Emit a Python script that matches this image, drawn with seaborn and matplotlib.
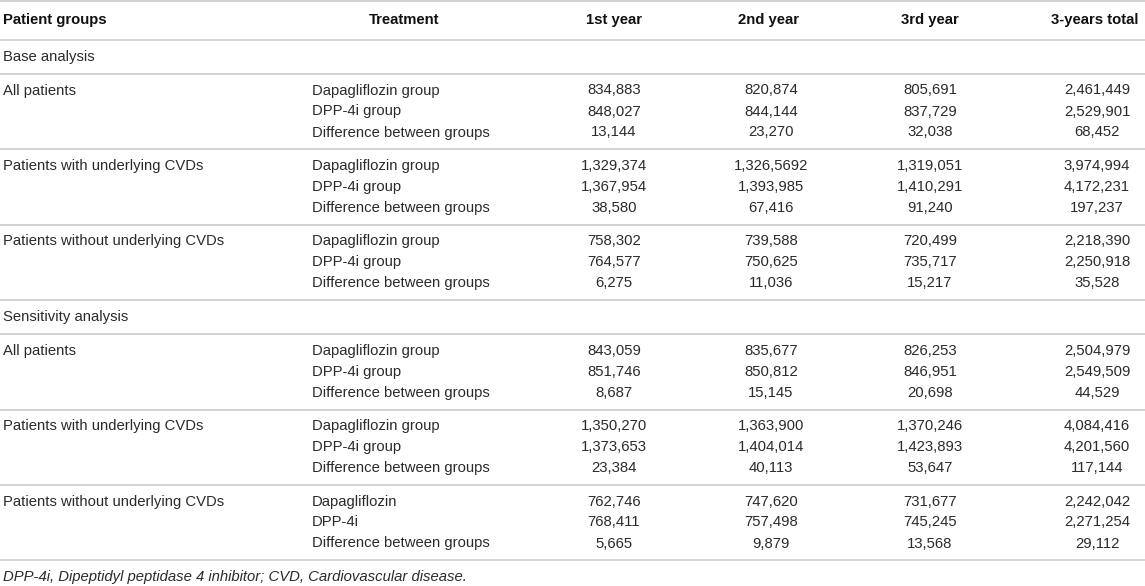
import matplotlib
matplotlib.use('Agg')
import seaborn as sns
from matplotlib import pyplot as plt

# table content
columns = ["Patient groups", "Treatment", "1st year", "2nd year", "3rd year", "3-years total"]
sections = ["Base analysis", "Sensitivity analysis"]
patient_groups = ["All patients", "Patients with underlying CVDs", "Patients without underlying CVDs"]
treatments = ["Dapagliflozin group", "DPP-4i group", "Difference between groups"]
treatments_last = ["Dapagliflozin", "DPP-4i", "Difference between groups"]

year1 = [
    ["834,883", "848,027", "13,144"],
    ["1,329,374", "1,367,954", "38,580"],
    ["758,302", "764,577", "6,275"],
    ["843,059", "851,746", "8,687"],
    ["1,350,270", "1,373,653", "23,384"],
    ["762,746", "768,411", "5,665"],
]
year2 = [
    ["820,874", "844,144", "23,270"],
    ["1,326,5692", "1,393,985", "67,416"],
    ["739,588", "750,625", "11,036"],
    ["835,677", "850,812", "15,145"],
    ["1,363,900", "1,404,014", "40,113"],
    ["747,620", "757,498", "9,879"],
]
year3 = [
    ["805,691", "837,729", "32,038"],
    ["1,319,051", "1,410,291", "91,240"],
    ["720,499", "735,717", "15,217"],
    ["826,253", "846,951", "20,698"],
    ["1,370,246", "1,423,893", "53,647"],
    ["731,677", "745,245", "13,568"],
]
total = [
    ["2,461,449", "2,529,901", "68,452"],
    ["3,974,994", "4,172,231", "197,237"],
    ["2,218,390", "2,250,918", "35,528"],
    ["2,504,979", "2,549,509", "44,529"],
    ["4,084,416", "4,201,560", "117,144"],
    ["2,242,042", "2,271,254", "29,112"],
]
footnote = "DPP-4i, Dipeptidyl peptidase 4 inhibitor; CVD, Cardiovascular disease."

sns.set_style('white')
plt.rcParams['font.family'] = ['Liberation Sans', 'DejaVu Sans']

W, H = 1145, 586
fig = plt.figure(figsize=(W / 100, H / 100), dpi=100)
ax = fig.add_axes([0, 0, 1, 1])
ax.set_xlim(0, W)
ax.set_ylim(H, 0)
ax.axis('off')

fs = 10.7
txt_col = '#2b2b2b'
line_col = '#cfcfcf'

# column anchors: (x, alignment) for body and header
body_x = [(3, 'left'), (312, 'left'), (614, 'center'), (771, 'center'), (930, 'center'), (1097, 'center')]
head_x = [(3, 'left'), (404, 'center'), (614, 'center'), (769, 'center'), (930, 'center'), (1095, 'center')]


def hline(y):
    ax.axhline(y, color=line_col, lw=1.3)


hline(1)
for (x, ha), name in zip(head_x, columns):
    ax.text(x, 20, name, ha=ha, va='center', fontsize=fs, fontweight='bold', color='#111111')
y = 39.5
hline(y)

section_h = 34.5
group_h = 75.3
row_h = 21
col_values = [year1, year2, year3, total]
k = 0
for s, sec in enumerate(sections):
    ax.text(3, y + 17, sec, ha='left', va='center', fontsize=fs, color=txt_col)
    y += section_h
    hline(y)
    for g, grp in enumerate(patient_groups):
        labels = treatments_last if (s == 1 and g == 2) else treatments
        ax.text(body_x[0][0], y + 16.5, grp, ha='left', va='center', fontsize=fs, color=txt_col)
        for r in range(3):
            ry = y + 16.5 + r * row_h
            ax.text(body_x[1][0], ry, labels[r], ha='left', va='center', fontsize=fs, color=txt_col)
            for c, vals in enumerate(col_values):
                x, ha = body_x[c + 2]
                ax.text(x, ry, vals[k][r], ha=ha, va='center', fontsize=fs, color=txt_col)
        k += 1
        y += group_h
        hline(y)

ax.text(3, y + 16.5, footnote, ha='left', va='center', fontsize=fs, style='italic', color=txt_col)

fig.savefig('out.png', dpi=100)
